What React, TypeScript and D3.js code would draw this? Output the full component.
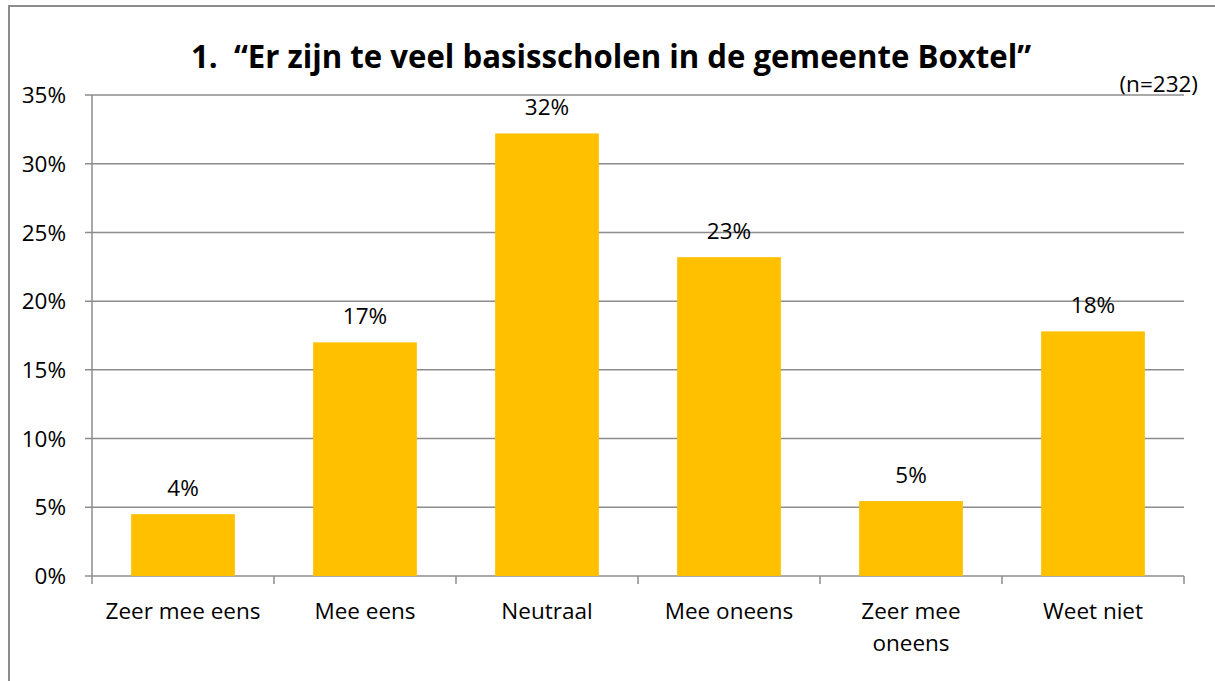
import React from 'react';
import * as d3 from 'd3';

const categories = ['Zeer mee eens', 'Mee eens', 'Neutraal', 'Mee oneens', 'Zeer mee oneens', 'Weet niet'];
const values = [4.5, 17.0, 32.2, 23.2, 5.45, 17.8];
const valueLabels = ['4%', '17%', '32%', '23%', '5%', '18%'];
const yTicks = [0, 5, 10, 15, 20, 25, 30, 35];
// labels that wrap onto two lines
const wrapped: Record<string, string[]> = { 'Zeer mee oneens': ['Zeer mee', 'oneens'] };

const W = 1215;
const H = 681;
const FONT = '"Open Sans", Lato, sans-serif';
const FS = 22.5;

export default function App() {
  const left = 92;
  const right = 1184;
  const top = 95;
  const bottom = 576;

  const x = d3.scaleBand().domain(categories).range([left, right]).paddingInner(0.43).paddingOuter(0.215);
  const xTickScale = d3.scaleLinear().domain([0, categories.length]).range([left, right]);
  const y = d3.scaleLinear().domain([0, 35]).range([bottom, top]);

  return (
    <svg width={W} height={H} style={{ position: 'absolute', left: 0, top: 0, background: '#fff' }}>
      <rect x={9} y={6} width={W} height={H} fill="#fff" stroke="#8c8c8c" strokeWidth={2} />

      <text
        x={611}
        y={68}
        textAnchor="middle"
        fontFamily={FONT}
        fontWeight="bold"
        fontSize={32}
        textLength={840}
        lengthAdjust="spacingAndGlyphs"
        fill="#000"
      >
        {'1.\u00A0\u00A0“Er zijn te veel basisscholen in de gemeente Boxtel”'}
      </text>
      <text x={1198} y={92} textAnchor="end" fontFamily={FONT} fontSize={FS} fill="#000">
        (n=232)
      </text>

      {/* gridlines */}
      {yTicks.map(t => (
        <g key={t}>
          <line x1={left - 7} x2={right} y1={y(t)} y2={y(t)} stroke="#8c8c8c" strokeWidth={1.5} />
          <text x={66} y={y(t)} dy="0.36em" textAnchor="end" fontFamily={FONT} fontSize={FS} fill="#000">
            {t}%
          </text>
        </g>
      ))}

      {/* y axis */}
      <line x1={left} x2={left} y1={top} y2={bottom} stroke="#8c8c8c" strokeWidth={1.5} />

      {/* x ticks */}
      {d3.range(categories.length + 1).map(i => (
        <line
          key={i}
          x1={xTickScale(i)}
          x2={xTickScale(i)}
          y1={bottom}
          y2={bottom + 8}
          stroke="#8c8c8c"
          strokeWidth={1.5}
        />
      ))}

      {/* bars */}
      {categories.map((c, i) => (
        <g key={c}>
          <rect x={x(c)} y={y(values[i])} width={x.bandwidth()} height={bottom - y(values[i])} fill="#FFC000" />
          <text
            x={(x(c) as number) + x.bandwidth() / 2}
            y={y(values[i]) - 18}
            textAnchor="middle"
            fontFamily={FONT}
            fontSize={FS}
            fill="#000"
          >
            {valueLabels[i]}
          </text>
          {(wrapped[c] || [c]).map((line, j) => (
            <text
              key={j}
              x={(x(c) as number) + x.bandwidth() / 2}
              y={619 + j * 32}
              textAnchor="middle"
              fontFamily={FONT}
              fontSize={FS}
              fill="#000"
            >
              {line}
            </text>
          ))}
        </g>
      ))}
    </svg>
  );
}
